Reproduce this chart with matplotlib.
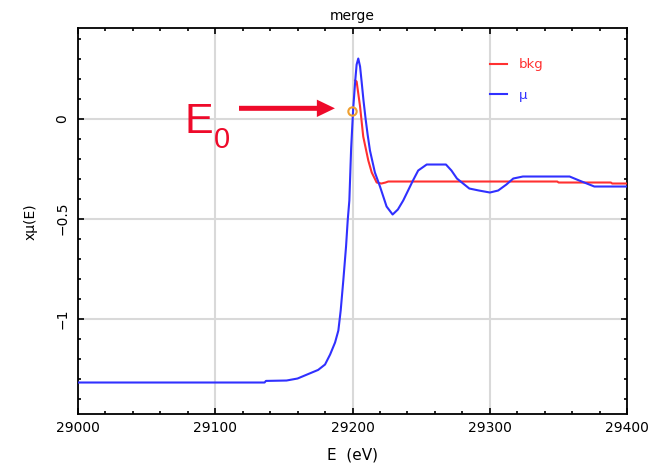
import numpy as np
import matplotlib
matplotlib.use("Agg")
from matplotlib import pyplot as plt
from matplotlib.ticker import MultipleLocator

# mu(E)
energy = [29000, 29136, 29137, 29152, 29160, 29168, 29175, 29180, 29183.7,
          29187.3, 29189.7, 29191.4, 29193.3, 29195.3, 29196.5, 29197.7,
          29199, 29200.5, 29202, 29203, 29204.2, 29205.5, 29206.7, 29208,
          29209.5, 29211, 29212.7, 29216.3, 29220, 29224.8, 29229.2, 29233,
          29236.9, 29244, 29247.8, 29254, 29268, 29272, 29276, 29285, 29292,
          29300, 29306, 29312, 29317, 29324, 29358, 29365, 29376, 29400]
mu = [-1.32, -1.32, -1.312, -1.31, -1.30, -1.277, -1.257, -1.23, -1.18,
      -1.12, -1.06, -0.96, -0.81, -0.64, -0.51, -0.41,
      -0.15, 0.05, 0.19, 0.27, 0.30, 0.26, 0.18, 0.09,
      0.0, -0.08, -0.16, -0.27, -0.34, -0.44, -0.48, -0.455,
      -0.41, -0.31, -0.26, -0.23, -0.23, -0.26, -0.30, -0.35, -0.36,
      -0.37, -0.36, -0.33, -0.30, -0.29, -0.29, -0.31, -0.34, -0.34]

# background
bkg_energy = [29202, 29203, 29205.5, 29207.8, 29211.5, 29214, 29217.6, 29221,
              29224, 29226, 29349, 29350, 29388, 29389, 29400]
bkg = [0.19, 0.185, 0.06, -0.09, -0.21, -0.27, -0.32, -0.325,
       -0.32, -0.315, -0.315, -0.32, -0.32, -0.325, -0.325]

e0_energy = 29199.4
e0_value = 0.039

red = '#ee0a2a'

fig = plt.figure(figsize=(6.54, 4.65), dpi=100)
ax = fig.add_axes([0.1188, 0.1090, 0.9592 - 0.1188, 0.9391 - 0.1090])

ax.plot(bkg_energy, bkg, color='#ff3030', lw=1.5, label='bkg', zorder=3)
ax.plot(energy, mu, color='#3030ff', lw=1.5, label='μ', zorder=4)
ax.plot([e0_energy], [e0_value], 'o', mfc='none', mec='#f0a030', ms=6, mew=1.5, zorder=5)

ax.set_xlim(29000, 29400)
ax.set_ylim(-1.479, 0.451)
ax.xaxis.set_major_locator(MultipleLocator(100))
ax.xaxis.set_minor_locator(MultipleLocator(20))
ax.yaxis.set_major_locator(MultipleLocator(0.5))
ax.yaxis.set_minor_locator(MultipleLocator(0.1))
ax.set_yticks([0, -0.5, -1])
ax.set_yticklabels(['0', '\u22120.5', '\u22121'])

ax.grid(True, which='major', color='#d9d9d9', lw=1.5, zorder=0)
ax.set_axisbelow(True)
ax.tick_params(which='both', direction='in', top=True, right=True, labelsize=10,
               width=1.2, colors='black')
ax.tick_params(which='major', length=4.5)
ax.tick_params(which='minor', length=2.2)
ax.tick_params(axis='x', pad=5)
ax.tick_params(axis='y', pad=6)
for lab in ax.get_yticklabels():
    lab.set_rotation(90)
    lab.set_va('center')
for sp in ax.spines.values():
    sp.set_linewidth(1.3)

ax.set_title('merge', fontsize=10, pad=6)
ax.set_xlabel('E  (eV)', fontsize=11, labelpad=9)
ax.set_ylabel('xμ(E)', fontsize=10, labelpad=13)

ax.legend(loc='upper left', bbox_to_anchor=(0.7495, 0.922), frameon=False,
          fontsize=9.5, labelcolor='linecolor', handlelength=1.35,
          handletextpad=0.85, labelspacing=1.3, borderpad=0, borderaxespad=0)

# E0 annotation
ax.annotate('', xy=(29187.2, 0.051), xytext=(29117.4, 0.051),
            arrowprops=dict(facecolor=red, edgecolor='none', width=3.6,
                            headwidth=12.5, headlength=13, shrink=0))
ax.text(29078, -0.074, 'E', color=red, fontsize=31, family='Liberation Sans',
        va='baseline', ha='left')
ax.text(29099.2, -0.149, '0', color=red, fontsize=21, family='Liberation Sans',
        va='baseline', ha='left')

fig.savefig('out.png', dpi=100)
